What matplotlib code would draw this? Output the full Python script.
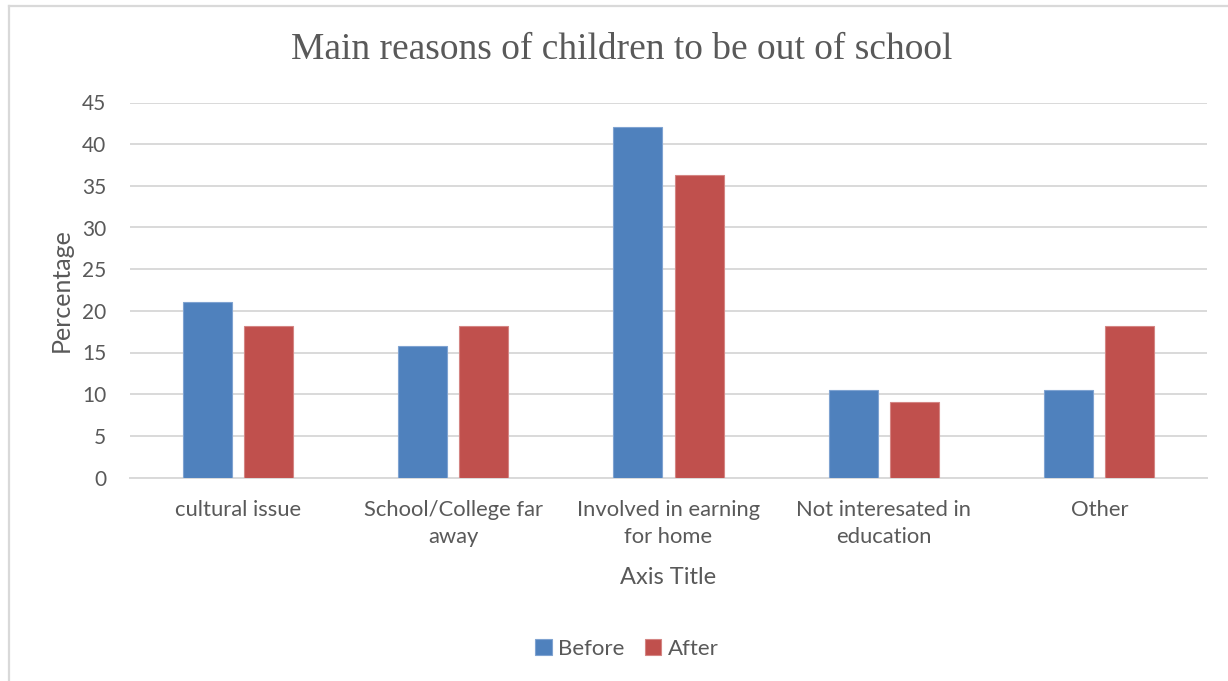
import matplotlib.pyplot as plt
from matplotlib.lines import Line2D
import numpy as np

categories = ["cultural issue", "School/College far\naway", "Involved in earning\nfor home",
              "Not interesated in\neducation", "Other"]
before = [21.05, 15.79, 42.11, 10.53, 10.53]
after = [18.18, 18.18, 36.36, 9.09, 18.18]

text_col = "#595959"
grid_col = "#d9d9d9"
plt.rcParams['font.family'] = ['Lato', 'DejaVu Sans']

fig = plt.figure(figsize=(12.28, 6.81), dpi=100)
ax = fig.add_axes([130 / 1228, 1 - 477.5 / 681, 1077 / 1228, 375 / 681])

x = np.arange(len(categories))
w = 0.227
off = 0.142
ax.bar(x - off, before, w, color="#4f81bd", edgecolor="#7fa3d1", linewidth=0.8, label="Before", zorder=3)
ax.bar(x + off, after, w, color="#c0504d", edgecolor="#d48583", linewidth=0.8, label="After", zorder=3)

ax.set_xlim(-0.5, len(categories) - 0.5)
ax.set_ylim(0, 45)
ax.set_yticks(range(0, 46, 5))
ax.grid(axis="y", color=grid_col, linewidth=1.4, zorder=0)
ax.set_axisbelow(True)
for s in ["top", "left", "right"]:
    ax.spines[s].set_visible(False)
ax.spines["bottom"].set_color(grid_col)
ax.spines["bottom"].set_linewidth(1.4)
ax.tick_params(length=0, colors=text_col)
ax.tick_params(axis="y", pad=17, labelsize=15)
ax.tick_params(axis="x", pad=16, labelsize=15.8)
ax.set_xticks(x)
ax.set_xticklabels(categories, linespacing=1.45)

ax.set_xlabel("Axis Title", fontsize=17, color=text_col, labelpad=10)
ax.xaxis.set_label_coords(0.5, (477.5 - 577) / 375)
ax.set_ylabel("Percentage", fontsize=18, color=text_col)
ax.yaxis.set_label_coords((61 - 130) / 1077, 0.5)
ax.yaxis.label.set_va("center")
ax.xaxis.label.set_va("center")

fig.text(622 / 1228, 1 - 50 / 681, "Main reasons of children to be out of school",
         ha="center", va="center", fontsize=27, color=text_col,
         family=["Liberation Serif", "DejaVu Serif"])

ax.legend(loc="center", bbox_to_anchor=((627 - 130) / 1077, (477.5 - 649) / 375), ncol=2, frameon=False,
          fontsize=16, labelcolor=text_col, handlelength=0.75, handleheight=0.75,
          handletextpad=0.3, columnspacing=0.9)

# outer chart border (left and top edges)
fig.add_artist(Line2D([9 / 1228, 9 / 1228], [0, 1 - 6 / 681], color=grid_col, linewidth=1.6))
fig.add_artist(Line2D([9 / 1228, 1], [1 - 6 / 681, 1 - 6 / 681], color=grid_col, linewidth=1.6))

fig.savefig("out.png", dpi=100)
